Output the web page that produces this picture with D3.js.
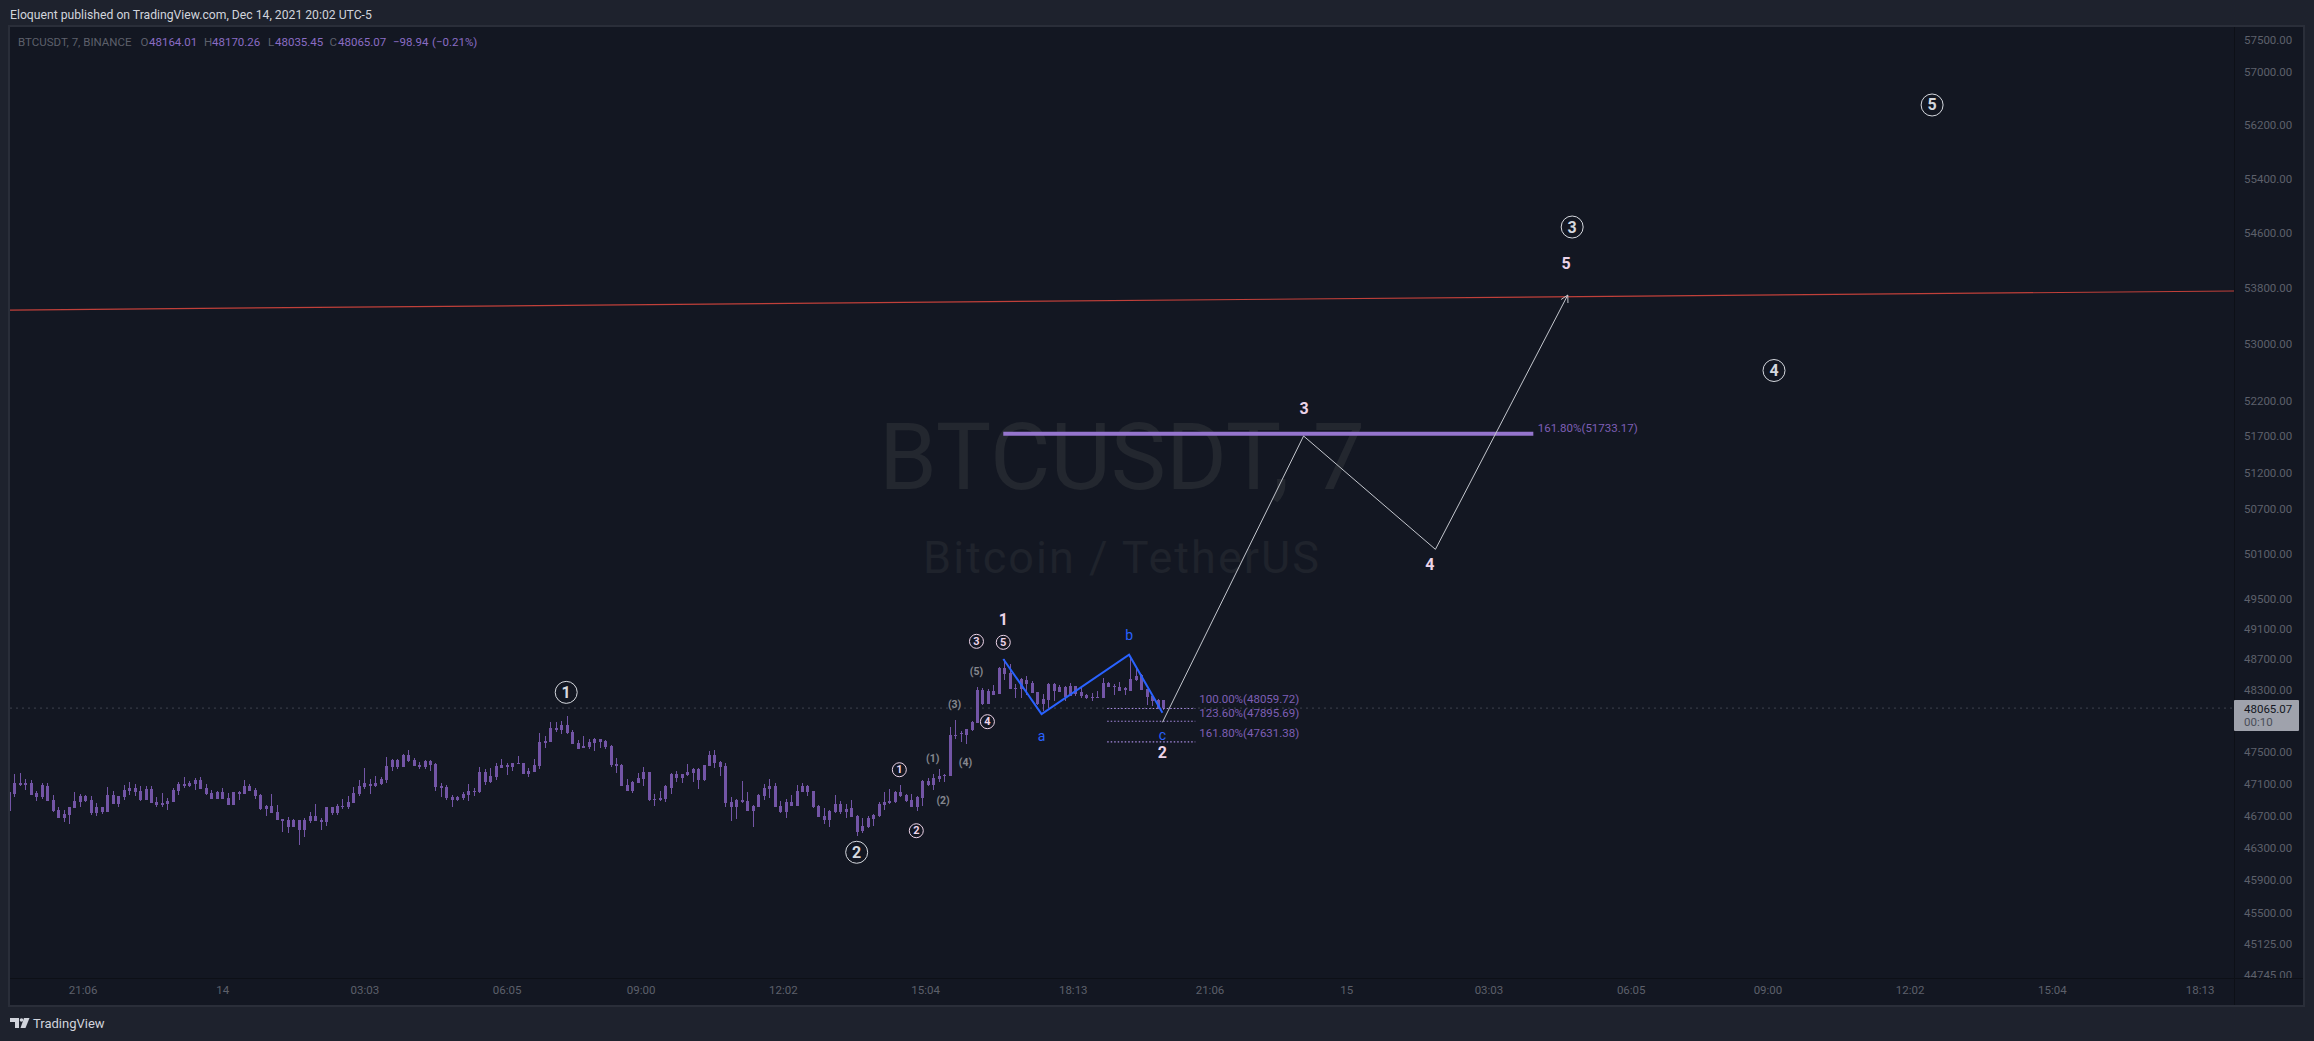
<!DOCTYPE html>
<html>
<head>
<meta charset="utf-8">
<title>BTCUSDT, 7</title>
<script src="https://cdn.jsdelivr.net/npm/d3@7"></script>
<style>
  html, body { margin: 0; padding: 0; background: #1e222d; overflow: hidden; }
  text { font-family: Roboto, "Liberation Sans", sans-serif; }
</style>
</head>
<body>
<div id="chart"></div>
<script>
// 7 minute candles. All candles are one colour so body top/bottom is enough
const highs = [
46998,47222,47234,47159,47147,47010,47110,47110,46961,46801,
46764,46801,46998,46973,46961,46948,46862,46813,47060,47010,
46948,47085,47122,47097,47072,47072,47072,46936,46985,46924,
47047,47122,47184,47134,47172,47184,47097,47023,47010,47047,
46985,46998,47010,47147,47097,47047,46973,46838,46973,46838,
46655,46679,46655,46643,46667,46740,46850,46667,46801,46801,
46850,46911,46948,47060,47147,47297,47159,47197,47184,47436,
47411,47411,47474,47525,47423,47373,47398,47398,47360,47110,
47085,46961,46948,46998,47097,47047,47310,47285,47297,47360,
47411,47360,47360,47449,47360,47297,47411,47742,47703,47883,
47883,47896,47960,47780,47652,47703,47665,47678,47665,47652,
47588,47423,47348,47159,47134,47234,47310,47247,46973,47010,
47085,47234,47260,47222,47348,47297,47297,47335,47512,47525,
47385,47360,46936,46911,47134,46998,46838,46973,47097,47159,
47110,46887,46911,46961,47085,47110,47085,47010,46838,46789,
46764,46961,46887,46850,46899,46703,46667,46691,46715,46874,
46998,47035,47010,47085,46973,46973,46948,47147,47172,47222,
47285,47222,47819,47909,47767,47793,47896,48335,48331,48309,
48361,48595,48699,48634,48374,48452,48478,48413,48270,48244,
48387,48387,48361,48348,48387,48348,48322,48244,48257,48283,
48452,48400,48374,48400,48335,48742,48595,48504,48309,48231,
48179,48170.26];
const bodyTops = [
46998,47110,47110,47110,47110,46977,47085,47072,46899,46764,
46715,46801,46887,46948,46948,46899,46801,46801,46961,46961,
46948,47023,47047,47047,47010,47035,47035,46874,46862,46887,
47023,47097,47097,47110,47147,47147,47047,46985,46998,46998,
46924,46998,46998,47072,47072,47023,46961,46825,46825,46740,
46655,46643,46643,46643,46643,46691,46691,46643,46801,46801,
46825,46825,46874,46985,47072,47110,47097,47110,47159,47322,
47398,47398,47461,47461,47398,47335,47385,47385,47348,47072,
47060,46936,46936,46973,47010,47010,47247,47247,47197,47322,
47335,47335,47360,47360,47360,47260,47335,47627,47639,47806,
47806,47845,47845,47755,47614,47576,47627,47665,47665,47639,
47576,47348,47335,47085,47122,47172,47247,47247,46911,46924,
47072,47222,47222,47222,47247,47285,47285,47335,47461,47461,
47373,47322,46874,46899,46899,46887,46825,46961,47047,47072,
47072,46825,46874,46874,47010,47072,47072,47010,46825,46691,
46752,46850,46850,46776,46789,46691,46570,46667,46703,46850,
46874,46887,46998,46998,46961,46899,46936,47134,47134,47172,
47197,47209,47716,47716,47742,47793,47883,48296,48296,48283,
48283,48582,48582,48517,48322,48439,48426,48387,48270,48179,
48374,48374,48335,48335,48348,48348,48270,48231,48205,48205,
48387,48387,48348,48335,48322,48439,48478,48491,48309,48218,
48166,48164.01];
const bodyBottoms = [
46756,46973,47081,47085,46961,46936,46936,46887,46752,46667,
46667,46703,46789,46874,46887,46728,46728,46740,46740,46850,
46850,46936,47010,46998,46899,46899,46862,46838,46838,46850,
46874,47010,47072,47072,47097,47035,46973,46911,46911,46911,
46838,46838,46973,46973,47010,46948,46776,46776,46728,46643,
46631,46558,46558,46522,46522,46631,46631,46618,46618,46728,
46728,46813,46813,46862,46973,47060,47072,47072,47097,47147,
47310,47310,47310,47385,47322,47310,47310,47335,47060,47047,
46924,46899,46899,46924,46961,46998,46998,47122,47122,47184,
47297,47310,47310,47348,47222,47222,47247,47322,47614,47627,
47780,47780,47742,47601,47537,47550,47563,47614,47627,47563,
47335,47322,47072,47010,47010,47110,47159,46899,46899,46899,
46911,47047,47172,47172,47209,47234,47147,47147,47322,47360,
47310,46862,46813,46813,46874,46752,46752,46813,46948,47035,
46813,46740,46740,46825,46825,46998,46998,46813,46679,46643,
46643,46740,46740,46740,46679,46498,46510,46558,46655,46691,
46838,46862,46874,46948,46887,46813,46813,46924,47085,47085,
47159,47197,47197,47703,47729,47716,47780,47870,48114,48114,
48231,48244,48504,48309,48309,48309,48374,48257,48114,48114,
48166,48283,48270,48205,48218,48244,48218,48192,48192,48192,
48192,48335,48335,48283,48296,48283,48426,48296,48205,48153,
48062,48065.07];
const lows = [
46756,46936,47072,47023,46961,46887,46911,46887,46740,46667,
46618,46594,46789,46801,46874,46703,46691,46715,46740,46850,
46801,46899,46961,46948,46887,46899,46862,46801,46801,46764,
46874,46961,47047,47060,47023,47035,46961,46911,46911,46911,
46838,46838,46899,46973,47010,46911,46764,46691,46728,46643,
46498,46486,46558,46331,46426,46606,46631,46522,46570,46703,
46703,46776,46776,46862,46948,47035,46973,47060,47085,47110,
47260,47285,47310,47373,47322,47285,47285,47260,47010,46936,
46899,46801,46887,46899,46887,46948,46985,47085,47110,47147,
47297,47209,47260,47348,47222,47184,47247,47285,47550,47627,
47755,47729,47729,47601,47537,47550,47537,47512,47550,47537,
47310,47234,47072,47010,46985,47110,47072,46887,46825,46887,
46874,46973,47122,47110,47197,47122,47035,47134,47322,47297,
47197,46813,46631,46655,46862,46752,46558,46813,46899,46924,
46801,46728,46667,46825,46825,46998,46948,46789,46679,46594,
46558,46728,46715,46667,46679,46450,46486,46546,46570,46679,
46764,46850,46862,46936,46874,46813,46752,46825,47072,47023,
47122,47122,47197,47665,47627,47601,47767,47870,48101,48114,
48231,48244,48426,48309,48192,48192,48231,48257,48101,48023,
48062,48153,48270,48153,48218,48218,48192,48179,48153,48192,
48192,48335,48231,48283,48231,48283,48413,48296,48101,48088,
48049,48035.45];

// Axis ticks
const priceTicks = [57500,57000,56200,55400,54600,53800,53000,52200,51700,51200,50700,50100,49500,49100,48700,48300,47500,47100,46700,46300,45900,45500,45125,44745];
const timeTickBars = [13.5,39,65,91,115.5,141.5,167.5,194.5,219.5,244.5,270.5,296.5,321.5,347.5,373.5,400.5];
const timeTickLabels = ['21:06','14','03:03','06:05','09:00','12:02','15:04','18:13','21:06','15','03:03','06:05','09:00','12:02','15:04','18:13'];

// Drawings, every point is [bar index, price]
const lastPrice = 48065.07;
const trendLine = [[-1, 53478], [407, 53753]];
const correctionPath = [[181.8,48702],[188.8,47988],[204.8,48758],[210.9,48005]];
const projectionPath = [[210.9,47882],[236.7,51703],[260.8,50155],[285,53695]];
const fibLevels = [48059.72, 47895.69, 47631.38];
const fibLabels = ['100.00%(48059.72)', '123.60%(47895.69)', '161.80%(47631.38)'];
const fibLabelPrices = [48177, 48003, 47742];
const fibBars = [200.8, 216.9];
const targetPrice = 51733.17;
const targetBars = [181.8, 278.7];
const targetLabel = '161.80%(51733.17)';
const targetLabelPoint = [279.5, 51820];

// Wave counts: [label, bar, price]
const bigCircled = [['1',101.9,48268],['2',155,46242],['3',285.8,54683],['4',322.7,52619],['5',351.6,56502]];
const smallCircled = [['1',162.8,47277],['2',165.9,46510],['3',176.9,48933],['4',178.9,47890],['5',181.8,48920]];
const parenLabels = [['(1)',168.9,47417],['(2)',170.8,46891],['(3)',172.9,48109],['(4)',174.9,47366],['(5)',176.9,48541]];
const boldLabels = [['1',181.8,49223],['2',210.9,47493],['3',236.8,52079],['4',259.8,49958],['5',284.7,54144]];
const blueLabels = [['a',188.8,47706],['b',204.8,49020],['c',210.9,47723]];

const width = 2314, height = 1041;
const pane = { left: 10, top: 27, right: 2234, bottom: 978, outerRight: 2303, outerBottom: 1005 };

const svg = d3.select('#chart').append('svg')
    .attr('width', width)
    .attr('height', height)
    .style('display', 'block');

// Log price scale and a linear scale over bar index
const x = d3.scaleLinear().domain([0, 211]).range([8.8, 1163]);
const y = d3.scaleLog().domain([57500, 44745]).range([39.7, 975]);

// Frame
svg.append('rect').attr('width', width).attr('height', height).attr('fill', '#1e222d');
svg.append('rect')
    .attr('x', pane.left - 1).attr('y', pane.top - 1)
    .attr('width', pane.outerRight - pane.left + 2).attr('height', pane.outerBottom - pane.top + 2)
    .attr('fill', '#131722').attr('stroke', '#2a2e39').attr('stroke-width', 2);

const defs = svg.append('defs');
defs.append('clipPath').attr('id', 'plot').append('rect')
    .attr('x', pane.left).attr('y', pane.top)
    .attr('width', pane.right - pane.left).attr('height', pane.bottom - pane.top);
defs.append('clipPath').attr('id', 'priceAxis').append('rect')
    .attr('x', pane.right).attr('y', pane.top)
    .attr('width', pane.outerRight - pane.right).attr('height', pane.bottom - pane.top);

// Symbol watermark
svg.append('text').attr('x', 1122).attr('y', 457).attr('text-anchor', 'middle')
    .attr('dominant-baseline', 'central').attr('font-size', 93).attr('fill', '#23272f')
    .text('BTCUSDT, 7');
svg.append('text').attr('x', 1122).attr('y', 557).attr('text-anchor', 'middle')
    .attr('dominant-baseline', 'central').attr('font-size', 45).attr('letter-spacing', 2).attr('fill', '#1f232c')
    .text('Bitcoin / TetherUS');

const plot = svg.append('g').attr('clip-path', 'url(#plot)');

// Dotted last price line
plot.append('line')
    .attr('x1', pane.left).attr('x2', pane.right)
    .attr('y1', y(lastPrice)).attr('y2', y(lastPrice))
    .attr('stroke', '#363a45').attr('stroke-width', 1.4).attr('stroke-dasharray', '2 4');

// Candles
const candleColor = '#7355a6';
const candles = plot.append('g').attr('shape-rendering', 'crispEdges')
    .selectAll('g').data(highs).enter().append('g');
candles.append('rect')
    .attr('x', (d, i) => Math.round(x(i)))
    .attr('width', 1)
    .attr('y', (d, i) => y(highs[i]))
    .attr('height', (d, i) => y(lows[i]) - y(highs[i]))
    .attr('fill', candleColor);
candles.append('rect')
    .attr('x', (d, i) => Math.round(x(i)) - 1)
    .attr('width', 3)
    .attr('y', (d, i) => y(bodyTops[i]))
    .attr('height', (d, i) => Math.max(1, y(bodyBottoms[i]) - y(bodyTops[i])))
    .attr('fill', candleColor);

const lineGen = d3.line().x(d => x(d[0])).y(d => y(d[1]));

// Red trend line
plot.append('path').attr('d', lineGen(trendLine))
    .attr('fill', 'none').attr('stroke', '#c0403a').attr('stroke-width', 1.2);

// Fib levels
plot.selectAll('.fib').data(fibLevels).enter().append('line')
    .attr('class', 'fib')
    .attr('x1', x(fibBars[0])).attr('x2', x(fibBars[1]))
    .attr('y1', d => y(d)).attr('y2', d => y(d))
    .attr('stroke', '#a78be0').attr('stroke-width', 1.2).attr('stroke-dasharray', '1.5 2');
plot.selectAll('.fibLabel').data(fibLabels).enter().append('text')
    .attr('class', 'fibLabel')
    .attr('x', x(fibBars[1]) + 4)
    .attr('y', (d, i) => y(fibLabelPrices[i]))
    .attr('dominant-baseline', 'central')
    .attr('font-size', 11.5).attr('fill', '#7e5fb5')
    .text(d => d);

plot.append('line')
    .attr('x1', x(targetBars[0])).attr('x2', x(targetBars[1]))
    .attr('y1', y(targetPrice)).attr('y2', y(targetPrice))
    .attr('stroke', '#9575cd').attr('stroke-width', 4);
plot.append('text')
    .attr('x', x(targetLabelPoint[0])).attr('y', y(targetLabelPoint[1]))
    .attr('dominant-baseline', 'central')
    .attr('font-size', 11.5).attr('fill', '#7e5fb5')
    .text(targetLabel);

// Blue a-b-c correction
plot.append('path').attr('d', lineGen(correctionPath))
    .attr('fill', 'none').attr('stroke', '#2962ff').attr('stroke-width', 2);

// Projected waves with an arrow on the end
plot.append('path').attr('d', lineGen(projectionPath))
    .attr('fill', 'none').attr('stroke', '#c4c7ce').attr('stroke-width', 1);
const tip = projectionPath[projectionPath.length - 1];
const prev = projectionPath[projectionPath.length - 2];
const angle = Math.atan2(y(tip[1]) - y(prev[1]), x(tip[0]) - x(prev[0]));
[-1, 1].forEach(side => {
    plot.append('line')
        .attr('x1', x(tip[0])).attr('y1', y(tip[1]))
        .attr('x2', x(tip[0]) - 8 * Math.cos(angle + side * 0.5))
        .attr('y2', y(tip[1]) - 8 * Math.sin(angle + side * 0.5))
        .attr('stroke', '#c4c7ce').attr('stroke-width', 1);
});

function addLabels(rows, size, weight, color) {
    plot.append('g').selectAll('text').data(rows).enter().append('text')
        .attr('x', d => x(d[1])).attr('y', d => y(d[2]))
        .attr('text-anchor', 'middle').attr('dominant-baseline', 'central')
        .attr('font-size', size).attr('font-weight', weight).attr('fill', color)
        .text(d => d[0]);
}
function addCircled(rows, radius, color) {
    plot.append('g').selectAll('circle').data(rows).enter().append('circle')
        .attr('cx', d => x(d[1])).attr('cy', d => y(d[2])).attr('r', radius)
        .attr('fill', 'none').attr('stroke', color).attr('stroke-width', 1);
}

addCircled(bigCircled, 11, '#d5d8de');
addLabels(bigCircled, 16, 'bold', '#d5d8de');
addCircled(smallCircled, 7, '#ecd3e8');
addLabels(smallCircled, 11, 'bold', '#ecd3e8');
addLabels(parenLabels, 10.5, 'bold', '#85878f');
addLabels(boldLabels, 16, 'bold', '#ecd3e8');
addLabels(blueLabels, 14, 'normal', '#2962ff');

// Axis separators
svg.append('line').attr('x1', pane.right + 0.5).attr('x2', pane.right + 0.5)
    .attr('y1', pane.top).attr('y2', pane.outerBottom).attr('stroke', '#0d1017');
svg.append('line').attr('x1', pane.left).attr('x2', pane.outerRight)
    .attr('y1', pane.bottom + 0.5).attr('y2', pane.bottom + 0.5).attr('stroke', '#0d1017');

// Price axis
const priceAxis = svg.append('g')
    .attr('clip-path', 'url(#priceAxis)')
    .append('g')
    .attr('transform', `translate(${pane.right},0)`)
    .call(d3.axisRight(y).tickValues(priceTicks).tickSize(0).tickPadding(10).tickFormat(d3.format('.2f')));
priceAxis.select('.domain').remove();
priceAxis.selectAll('text').attr('font-size', 11.5).attr('font-family', 'Roboto').attr('fill', '#5d606b');

// Time axis
const timeAxis = svg.append('g')
    .attr('transform', `translate(0,${pane.bottom})`)
    .call(d3.axisBottom(x).tickValues(timeTickBars).tickSize(0).tickPadding(8)
        .tickFormat((d, i) => timeTickLabels[i]));
timeAxis.select('.domain').remove();
timeAxis.selectAll('text').attr('font-size', 11.5).attr('font-family', 'Roboto').attr('fill', '#5d606b');

// Last price tag
svg.append('rect').attr('x', pane.right).attr('y', 700).attr('width', 65).attr('height', 31).attr('rx', 1).attr('fill', '#9fa2ac');
svg.append('text').attr('x', 2244).attr('y', 708.7).attr('dominant-baseline', 'central')
    .attr('font-size', 11.5).attr('fill', '#131722').text(d3.format('.2f')(lastPrice));
svg.append('text').attr('x', 2244).attr('y', 722).attr('dominant-baseline', 'central')
    .attr('font-size', 11.5).attr('fill', '#4a4e59').text('00:10');

// Header line
svg.append('text').attr('x', 10).attr('y', 14.7).attr('dominant-baseline', 'central')
    .attr('font-size', 12.2).attr('fill', '#d1d4dc')
    .text('Eloquent published on TradingView.com, Dec 14, 2021 20:02 UTC-5');

// OHLC legend, start x of each piece
const legendParts = [
    ['BTCUSDT, 7, BINANCE', 18, '#5d606b'],
    ['O', 140.5, '#5d606b'], ['48164.01', 149, '#8a6cc4'],
    ['H', 204, '#5d606b'], ['48170.26', 212, '#8a6cc4'],
    ['L', 268, '#5d606b'], ['48035.45', 275, '#8a6cc4'],
    ['C', 329.5, '#5d606b'], ['48065.07', 338, '#8a6cc4'],
    ['\u221298.94', 393, '#8a6cc4'], ['(\u22120.21%)', 432, '#8a6cc4']
];
svg.append('g').selectAll('text').data(legendParts).enter().append('text')
    .attr('x', d => d[1]).attr('y', 41.7).attr('dominant-baseline', 'central')
    .attr('font-size', 11.5).attr('fill', d => d[2])
    .text(d => d[0]);

// TradingView mark and name
const logo = svg.append('g').attr('fill', '#d1d4dc');
logo.append('path').attr('d', 'M10 1018h9v10h-4v-6h-5z');
logo.append('circle').attr('cx', 21.5).attr('cy', 1020).attr('r', 1.8);
logo.append('path').attr('d', 'M24 1018h5.5l-4 10h-5z');
svg.append('text').attr('x', 33).attr('y', 1023).attr('dominant-baseline', 'central')
    .attr('font-size', 13).attr('fill', '#d1d4dc').text('TradingView');
</script>
</body>
</html>
